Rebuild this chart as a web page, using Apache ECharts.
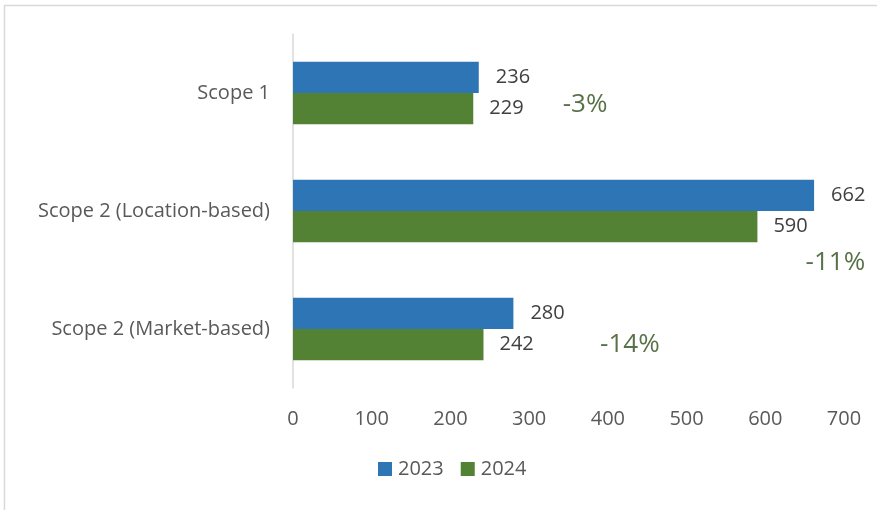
<!DOCTYPE html>
<html><head><meta charset="utf-8">
<script src="https://cdn.jsdelivr.net/npm/echarts@6/dist/echarts.min.js"></script>
<style>html,body{margin:0;padding:0;background:#fff}#c{width:877px;height:510px}</style>
</head><body><div id="c"></div>
<script>
var categories = ['Scope 1', 'Scope 2 (Location-based)', 'Scope 2 (Market-based)'];
var values2023 = [236, 662, 280];
var values2024 = [229, 590, 242];
var xTicks = [0, 100, 200, 300, 400, 500, 600, 700];
// annotation x-positions (in axis units) for the change labels
var changeX = [371, 689, 428];
var changeDy = [12, 52, 16];

var FONT = 'Open Sans';
var chart = echarts.init(document.getElementById('c'), null, {renderer: 'canvas'});
var changes = categories.map(function (c, i) {
  var p = Math.round((values2024[i] - values2023[i]) / values2023[i] * 100);
  return {value: [changeX[i], c], label: {offset: [0, changeDy[i]]}, pct: p + '%'};
});
chart.setOption({
  animation: false,
  graphic: [{type: 'rect', shape: {x: 4.5, y: 5.5, width: 1000, height: 700},
    style: {fill: 'none', stroke: '#d9d9d9', lineWidth: 1.5}, silent: true}],
  grid: {left: 293, right: 33, top: 34, bottom: 122, containLabel: false},
  legend: {
    bottom: 26, left: 373, itemWidth: 14, itemHeight: 14, itemGap: 17,
    icon: 'rect', data: ['2023', '2024'],
    textStyle: {color: '#595959', fontSize: 20, fontFamily: FONT, padding: [0, 0, 0, 1]}
  },
  xAxis: {
    type: 'value', min: 0, max: 700, interval: 100,
    axisLine: {show: false}, axisTick: {show: false}, splitLine: {show: false},
    axisLabel: {color: '#595959', fontSize: 20, fontFamily: FONT, margin: 21,
      formatter: function (v) { return xTicks.indexOf(v) >= 0 ? String(v) : ''; }}
  },
  yAxis: {
    type: 'category', inverse: true, data: categories,
    axisLine: {show: true, lineStyle: {color: '#d9d9d9', width: 1.5}},
    axisTick: {show: false},
    axisLabel: {color: '#595959', fontSize: 20, fontFamily: FONT, margin: 23}
  },
  series: [
    {name: '2023', type: 'bar', data: values2023, barGap: '0%', barCategoryGap: '47%',
      itemStyle: {color: '#2E75B6'},
      label: {show: true, position: 'right', distance: 17, color: '#404040', fontSize: 20, fontFamily: FONT}},
    {name: '2024', type: 'bar', data: values2024,
      itemStyle: {color: '#548235'},
      label: {show: true, position: 'right', distance: 16, color: '#404040', fontSize: 20, fontFamily: FONT}},
    {name: 'change', type: 'scatter', data: changes, symbolSize: 0, silent: true,
      label: {show: true, position: 'inside', color: '#2E4F1A', fontSize: 26, fontFamily: FONT,
        formatter: function (p) { return p.data.pct; }}}
  ]
});
</script></body></html>
